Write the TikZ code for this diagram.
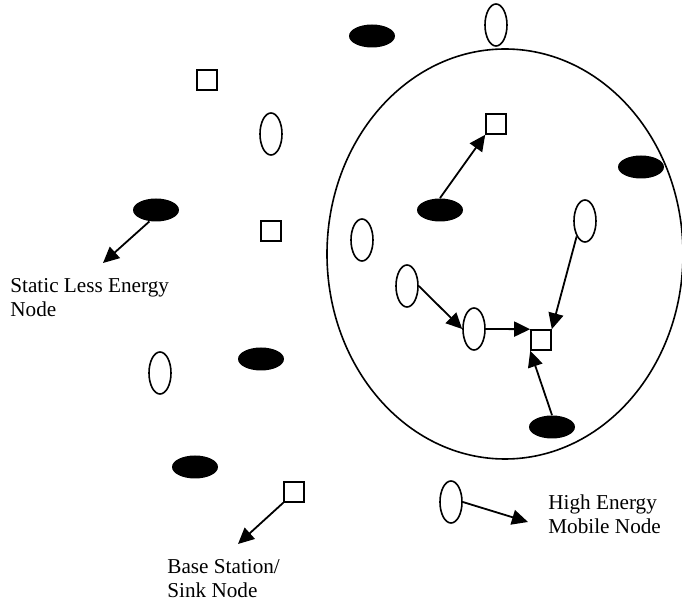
\documentclass[tikz,border=0pt]{standalone}
\usepackage{fontspec}
\setmainfont{Liberation Serif}
\usetikzlibrary{%
  arrows.meta,%
  shapes.geometric% wg. ellipse
}

\begin{document}
\begin{tikzpicture}[x=0.5pt,y=-0.5pt]
       \tikzset{mobile/.style={ellipse, draw, line width=0.8pt, inner sep=0pt,
                minimum width=11pt, minimum height=21pt}}
       \tikzset{static/.style={ellipse, fill, inner sep=0pt,
                minimum width=23pt, minimum height=11.5pt}}
       \tikzset{sink/.style={rectangle, draw, line width=0.8pt, inner sep=0pt, minimum size=10pt}}
       \tikzset{legendtext/.style={align=left, inner sep=0pt, font=\fontsize{10.6}{12}\selectfont}}
       \tikzset{link/.style={line width=0.9pt, -{Triangle[length=8pt,width=7.5pt]}}}

       \useasboundingbox (0,0) rectangle (682,604);

       % cluster of the mobile nodes
       \node[ellipse, draw, line width=0.8pt, minimum width=178pt, minimum height=205pt] (cluster) at (505,254) {};

       \node[static] (static1) at (372,36) {};
       \node[mobile] (mobile1) at (496,25) {};
       \node[sink] (sink1) at (207,80) {};
       \node[mobile] (mobile2) at (271,134) {};
       \node[sink] (sink2) at (496,124) {};
       \node[static] (static2) at (641,167) {};
       \node[static] (static3) at (156,210) {};
       \node[static] (static4) at (440,210) {};
       \node[sink] (sink3) at (271,231) {};
       \node[mobile] (mobile3) at (362,240) {};
       \node[mobile] (mobile4) at (585,221) {};
       \node[mobile] (mobile5) at (407,286) {};
       \node[mobile] (mobile6) at (474,329) {};
       \node[sink] (sink4) at (541,340) {};
       \node[mobile] (mobile7) at (160,373) {};
       \node[static] (static5) at (261,359) {};
       \node[static] (static6) at (552,427) {};
       \node[static] (static7) at (195,467) {};
       \node[sink] (sink5) at (294,492) {};
       \node[mobile] (mobile8) at (451,502) {};

       % legend (base = last line)
       \node[legendtext, anchor=base west] (staticlabel) at (10,317) {Static Less Energy\\Node};
       \node[legendtext, anchor=base west] (sinklabel) at (167,598) {Base Station/\\Sink Node};
       \node[legendtext, anchor=base west] (mobilelabel) at (548,534) {High Energy\\Mobile Node};

       \coordinate (tipstatic) at (103,263);
       \coordinate (tipsink) at (238,544);
       \coordinate (tipmobile) at (528,522);

       \draw[link] (static4.north) -- (sink2.south west);
       \draw[link] (mobile4.south west) -- (sink4.north east);
       \draw[link] (mobile5.east) -- (mobile6.west);
       \draw[link] (mobile6.east) -- (sink4.north west);
       \draw[link] (static6.north) -- (sink4.south west);

       \draw[link] (static3.240) -- (tipstatic);
       \draw[link] (sink5.south west) -- (tipsink);
       \draw[link] (mobile8.east) -- (tipmobile);
\end{tikzpicture}
\end{document}
